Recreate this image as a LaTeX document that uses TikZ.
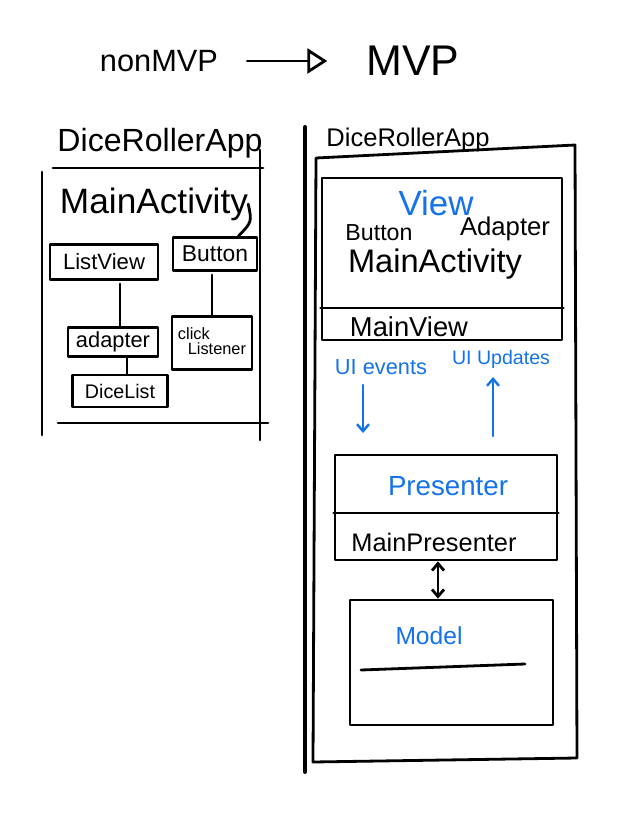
\documentclass[tikz,border=0pt]{standalone}
\usepackage{fontspec}
\setmainfont{Liberation Sans}
\usetikzlibrary{arrows.meta}
\definecolor{ink}{RGB}{20,115,235}
\newcommand{\hw}[2]{\resizebox{#1pt}{!}{#2}}
\begin{document}
\begin{tikzpicture}[x=1pt,y=-1pt,line cap=round,line join=round,
  pen/.style={draw=black,line width=2.8pt},
  bpen/.style={draw=ink,line width=2.4pt},
  box/.style={pen,rectangle,inner sep=0pt},
  lbl/.style={inner sep=0pt,text=black},
  blbl/.style={inner sep=0pt,text=ink},
  barb/.style={-{Straight Barb[length=7pt,width=12pt]}}]
\useasboundingbox[fill=white] (0,0) rectangle (633,817);

% ---- heading
\node[lbl] (nonmvp) at (159,61) {\hw{118}{nonMVP}};
\node[lbl] (mvp) at (413,61) {\hw{93}{MVP}};
\draw[pen,-{Triangle[open,length=20pt,width=25pt]}] ([xshift=29pt]nonmvp.east) -- ([xshift=-39pt]mvp.west);

% ---- left: non MVP
\node[lbl] (ltitle) at (160,143) {\hw{205}{DiceRollerApp}};
\draw[pen] (53,168) -- (263,168);
\draw[pen] (42,172) -- (42,435);
\draw[pen] (260,150) -- (260,440);
\draw[pen] (58,423) -- (268,423);
\node[lbl] (lmain) at (154,204) {\hw{188}{MainActivity}};

\node[box,minimum width=108pt,minimum height=35pt] (listview) at (104,262) {\hw{82}{ListView}};
\node[box,minimum width=84pt,minimum height=33pt] (button) at (215,254) {\hw{66}{Button}};
\node[box,minimum width=90pt,minimum height=29pt] (adapter) at (113,342) {\hw{74}{adapter}};
\node[box,minimum width=80pt,minimum height=53pt] (click) at (212,343)
  {\hw{68}{\begin{tabular}{@{}l@{}}click\\[-3pt]\hspace{6pt}Listener\end{tabular}}};
\node[box,minimum width=95pt,minimum height=32pt] (dicelist) at (120,391) {\hw{70}{DiceList}};

\draw[pen] (lmain.east) .. controls (252,222) .. ([xshift=-20pt]button.north east);
\draw[pen] ([xshift=16pt,yshift=-3pt]listview.south) -- ([xshift=7pt]adapter.north);
\draw[pen] ([xshift=-3pt,yshift=-3pt]button.south) -- ([xshift=0pt]click.north);
\draw[pen] ([xshift=14pt]adapter.south) -- ([xshift=7pt]dicelist.north);

% ---- divider
\draw[line width=4pt] (305,127) -- (305,772);

% ---- right: MVP
\node[lbl] (rtitle) at (408,140) {\hw{163}{DiceRollerApp}};
\draw[pen] (316,158) -- (575,145) -- (577,758) -- (313,762) -- cycle;

\node[box,minimum width=240pt,minimum height=162pt] (view) at (442,259) {};
\draw[pen] (view.west |- 0,308) -- (view.east |- 0,308);
\node[blbl] (viewlbl) at (436,203) {\hw{75}{View}};
\node[lbl] (vbutton) at (379,233) {\hw{67}{Button}};
\node[lbl] (vadapter) at (505,229) {\hw{90}{Adapter}};
\node[lbl] (vmain) at (435,264) {\hw{174}{MainActivity}};
\node[lbl] (mainview) at (409,327) {\hw{118}{MainView}};

\node[blbl] (uiev) at (381,367) {\hw{92}{UI events}};
\node[blbl] (uiup) at (501,359) {\hw{98}{UI Updates}};
\coordinate (evtop) at (363,385);
\coordinate (evbot) at (363,433);
\coordinate (uptop) at (493,377);
\coordinate (upbot) at (493,436);
\draw[bpen,barb] (evtop) -- (evbot);
\draw[bpen,barb] (upbot) -- (uptop);

\node[box,minimum width=222pt,minimum height=105pt] (presenter) at (446,507.5) {};
\draw[pen] (presenter.west |- 0,513) -- (presenter.east |- 0,513);
\node[blbl] (presenterlbl) at (448,486) {\hw{120}{Presenter}};
\node[lbl] (mainpresenter) at (434,542) {\hw{165}{MainPresenter}};

\node[box,minimum width=203pt,minimum height=125pt] (model) at (451.5,662.5) {};
\node[blbl] (modellbl) at (429,636) {\hw{67}{Model}};
\draw[pen] (361,670) -- (525,664);

\draw[pen,{Straight Barb[length=7pt,width=12pt]}-{Straight Barb[length=7pt,width=12pt]}]
  ([xshift=-8pt]presenter.south) -- ([xshift=-13.5pt]model.north);
\end{tikzpicture}
\end{document}
